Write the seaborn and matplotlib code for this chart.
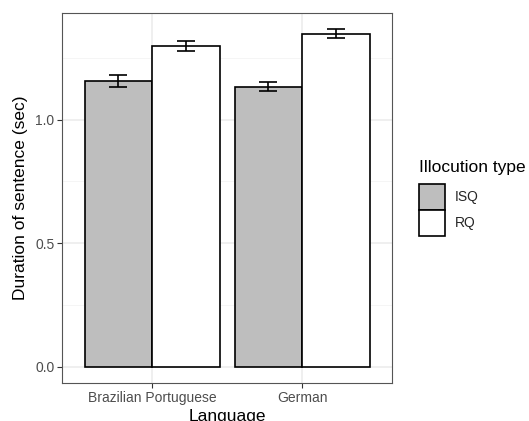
import matplotlib
matplotlib.use("Agg")
import matplotlib.pyplot as plt
from matplotlib.patches import Patch
from matplotlib.ticker import MultipleLocator, FormatStrFormatter
import seaborn as sns
import pandas as pd

languages = ["Brazilian Portuguese", "Brazilian Portuguese", "German", "German"]
illocution = ["ISQ", "RQ", "ISQ", "RQ"]
duration = [1.158, 1.298, 1.134, 1.349]
err_low = [1.131, 1.279, 1.118, 1.329]
err_high = [1.183, 1.318, 1.152, 1.366]

df = pd.DataFrame({"Language": languages, "type": illocution, "dur": duration,
                   "lo": err_low, "hi": err_high})

sns.set_theme(style="white")
plt.rcParams["font.family"] = ["Liberation Sans", "DejaVu Sans"]

W, H = 529, 421
fig = plt.figure(figsize=(W / 100, H / 100), dpi=100)
ax = fig.add_axes([62 / W, 1 - 383 / H, 330 / W, 370 / H])

palette = {"ISQ": "#bebebe", "RQ": "#ffffff"}
sns.barplot(data=df, x="Language", y="dur", hue="type", hue_order=["ISQ", "RQ"],
            palette=palette, edgecolor="black", linewidth=1.2, width=0.9,
            errorbar=None, legend=False, ax=ax, zorder=3)

# error bars centred on each drawn bar (patches come hue-major)
for bar, (_, row) in zip(ax.patches, df.sort_values(["type", "Language"]).iterrows()):
    xc = bar.get_x() + bar.get_width() / 2
    ax.errorbar(xc, (row.lo + row.hi) / 2, yerr=(row.hi - row.lo) / 2,
                color="black", capsize=6.7, capthick=1.2, elinewidth=1.2, zorder=4)

ax.set_xlim(-0.6, 1.6)
ax.set_ylim(-0.066, 1.432)
ax.yaxis.set_major_locator(MultipleLocator(0.5))
ax.yaxis.set_minor_locator(MultipleLocator(0.25))
ax.yaxis.set_major_formatter(FormatStrFormatter("%.1f"))
ax.grid(which="major", color="#ebebeb", linewidth=1.1, zorder=0)
ax.grid(which="minor", axis="y", color="#f4f4f4", linewidth=0.6, zorder=0)
ax.set_axisbelow(True)
for s in ax.spines.values():
    s.set_color("#555555")
    s.set_linewidth(0.8)

ax.tick_params(axis="both", which="major", length=3.5, width=0.8, color="#333333",
               labelsize=10, labelcolor="#4d4d4d", pad=2, bottom=True, left=True)
ax.tick_params(axis="y", which="minor", length=0)
ax.set_xlabel("Language", fontsize=12.5, color="black", labelpad=3.5)
ax.set_ylabel("Duration of sentence (sec)", fontsize=12.5, color="black", labelpad=5)

# legend: title as its own text, keys stacked directly below
fig.text(419 / W, 1 - 172 / H, "Illocution type", fontsize=12.5, ha="left",
         va="baseline", color="black")
handles = [Patch(facecolor=palette[k], edgecolor="black", linewidth=1.2) for k in ["ISQ", "RQ"]]
leg = fig.legend(handles, ["ISQ", "RQ"],
                 loc="upper left", bbox_to_anchor=(419 / W, 1 - 184 / H),
                 borderaxespad=0, frameon=False, fontsize=10,
                 handlelength=1.87, handleheight=2.5, handletextpad=0.72,
                 labelspacing=0.0, borderpad=0.0)

fig.savefig("out.png", dpi=100)
